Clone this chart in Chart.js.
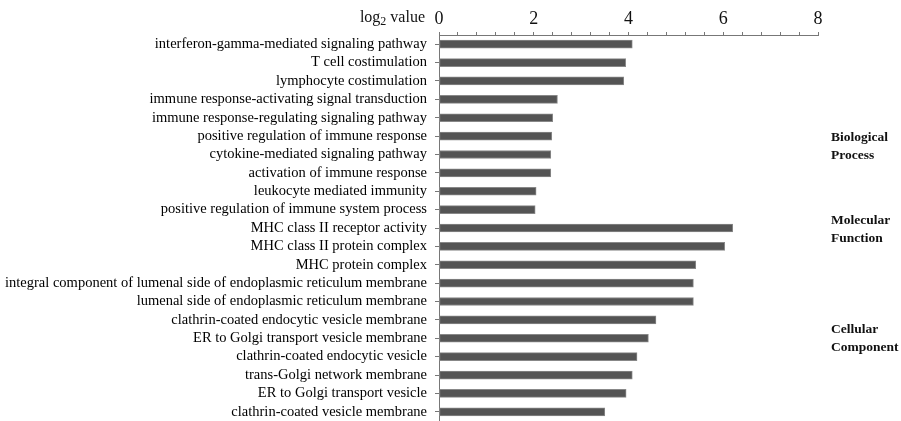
<!DOCTYPE html>
<html>
<head>
<meta charset="utf-8">
<script src="https://cdn.jsdelivr.net/npm/chart.js@4/dist/chart.umd.min.js"></script>
<style>
  html, body { margin: 0; padding: 0; background: #fff; }
  #wrap { width: 901px; height: 421px; }
</style>
</head>
<body>
<div id="wrap"><canvas id="goChart" width="901" height="421"></canvas></div>
<script>
const terms = [
  "interferon-gamma-mediated signaling pathway",
  "T cell costimulation",
  "lymphocyte costimulation",
  "immune response-activating signal transduction",
  "immune response-regulating signaling pathway",
  "positive regulation of immune response",
  "cytokine-mediated signaling pathway",
  "activation of immune response",
  "leukocyte mediated immunity",
  "positive regulation of immune system process",
  "MHC class II receptor activity",
  "MHC class II protein complex",
  "MHC protein complex",
  "integral component of lumenal side of endoplasmic reticulum membrane",
  "lumenal side of endoplasmic reticulum membrane",
  "clathrin-coated endocytic vesicle membrane",
  "ER to Golgi transport vesicle membrane",
  "clathrin-coated endocytic vesicle",
  "trans-Golgi network membrane",
  "ER to Golgi transport vesicle",
  "clathrin-coated vesicle membrane"
];
const log2Values = [4.08, 3.94, 3.90, 2.50, 2.40, 2.38, 2.36, 2.36, 2.05, 2.03,
                    6.20, 6.03, 5.42, 5.37, 5.37, 4.58, 4.42, 4.18, 4.08, 3.95, 3.50];
const axisLabels = ["0", "2", "4", "6", "8"];
const groups = [
  { lines: ["Biological", "Process"], y: 138 },
  { lines: ["Molecular", "Function"], y: 221 },
  { lines: ["Cellular", "Component"], y: 330 }
];

const serif = "'Liberation Serif', 'Times New Roman', serif";

// labels on the right and the "log2 value" title
const extraText = {
  id: "extraText",
  afterDraw(chart) {
    const ctx = chart.ctx;
    ctx.save();
    ctx.fillStyle = "#111";
    ctx.font = "bold 13.5px " + serif;
    ctx.textAlign = "left";
    ctx.textBaseline = "middle";
    groups.forEach(g => {
      g.lines.forEach((t, i) => ctx.fillText(t, 831, g.y + i * 18));
    });
    // log2 value
    const x0 = chart.scales.x.getPixelForValue(0);
    ctx.font = "16px " + serif;
    ctx.textAlign = "right";
    const w2 = ctx.measureText(" value").width;
    ctx.fillText(" value", x0 - 14, 18);
    ctx.font = "12px " + serif;
    const ws = ctx.measureText("2").width;
    ctx.fillText("2", x0 - 14 - w2, 22);
    ctx.font = "16px " + serif;
    ctx.fillText("log", x0 - 14 - w2 - ws, 18);
    ctx.restore();
  }
};

new Chart(document.getElementById("goChart"), {
  type: "bar",
  data: {
    labels: terms,
    datasets: [{
      data: log2Values,
      backgroundColor: "#545454",
      borderColor: "#888",
      borderWidth: 1,
      borderSkipped: false,
      barThickness: 8
    }]
  },
  options: {
    indexAxis: "y",
    responsive: false,
    animation: false,
    layout: { padding: { left: 0, right: 83, top: 0, bottom: 0 } },
    plugins: { legend: { display: false }, tooltip: { enabled: false } },
    scales: {
      x: {
        position: "top",
        min: 0,
        max: 8,
        afterFit(scale) { scale.height = 35; },
        ticks: {
          stepSize: 0.4,
          autoSkip: false,
          maxRotation: 0,
          padding: 2,
          color: "#111",
          font: { family: serif, size: 18 },
          callback(v) {
            const k = v / 2;
            return Math.abs(k - Math.round(k)) < 1e-6 ? axisLabels[Math.round(k)] : "";
          }
        },
        grid: { drawOnChartArea: false, tickLength: 3, color: "#777" },
        border: { color: "#777", width: 1 }
      },
      y: {
        afterFit(scale) {
          scale.width = 439;
          scale.paddingTop = 0;
          scale.paddingBottom = 0;
        },
        ticks: {
          autoSkip: false,
          padding: 8,
          color: "#000",
          font: { family: serif, size: 14.5 }
        },
        grid: { drawOnChartArea: false, offset: false, tickLength: 4, color: "#777" },
        border: { color: "#777", width: 1 }
      }
    }
  },
  plugins: [extraText]
});
</script>
</body>
</html>
